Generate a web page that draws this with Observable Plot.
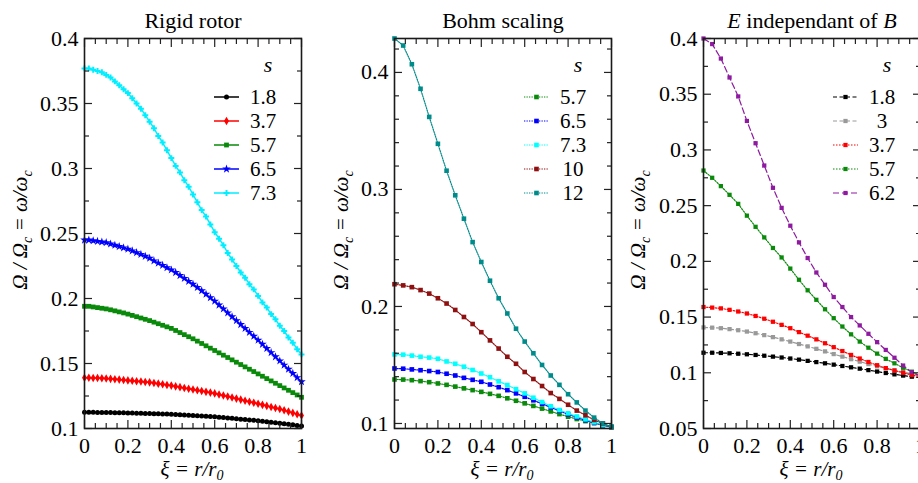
<!DOCTYPE html>
<html><head><meta charset="utf-8">
<script src="https://cdn.jsdelivr.net/npm/d3@7"></script>
<script src="https://cdn.jsdelivr.net/npm/@observablehq/plot@0.6"></script>
<style>
html,body{margin:0;padding:0;background:#fff;}
#wrap{position:relative;width:918px;height:483px;overflow:hidden;background:#fff;}
#wrap svg{position:absolute;top:0;}
#wrap svg text{font-family:'Liberation Serif','Times New Roman',serif !important;}
</style></head><body><div id="wrap"></div>
<script>
// ---------- x grids ----------
const xi51 = [0,0.02,0.04,0.06,0.08,0.1,0.12,0.14,0.16,0.18,0.2,0.22,0.24,0.26,0.28,0.3,0.32,0.34,0.36,0.38,0.4,0.42,0.44,0.46,0.48,0.5,0.52,0.54,0.56,0.58,0.6,0.62,0.64,0.66,0.68,0.7,0.72,0.74,0.76,0.78,0.8,0.82,0.84,0.86,0.88,0.9,0.92,0.94,0.96,0.98,1];
const xi26 = [0,0.04,0.08,0.12,0.16,0.2,0.24,0.28,0.32,0.36,0.4,0.44,0.48,0.52,0.56,0.6,0.64,0.68,0.72,0.76,0.8,0.84,0.88,0.92,0.96,1];

// ---------- Rigid rotor ----------
const rrLabels = ["1.8","3.7","5.7","6.5","7.3"];
const rr_s18 = [0.1125,0.1125,0.1125,0.1124,0.1124,0.1124,0.1123,0.1122,0.1121,0.1121,0.112,0.1119,0.1118,0.1117,0.1116,0.1115,0.1114,0.1113,0.1112,0.1111,0.111,0.1108,0.1106,0.1104,0.1102,0.110,0.1098,0.1096,0.1094,0.1092,0.109,0.1087,0.1084,0.1081,0.1078,0.1075,0.1072,0.1069,0.1066,0.1063,0.106,0.1056,0.1052,0.1048,0.1044,0.104,0.1036,0.1032,0.1028,0.1024,0.102];
const rr_s37 = [0.139,0.139,0.1389,0.1388,0.1387,0.1385,0.1382,0.1379,0.1376,0.1373,0.137,0.1367,0.1364,0.1361,0.1358,0.1355,0.135,0.1345,0.134,0.1335,0.133,0.1324,0.1318,0.1312,0.1306,0.130,0.1294,0.1288,0.1282,0.1276,0.127,0.1262,0.1254,0.1246,0.1238,0.123,0.1222,0.1214,0.1206,0.1198,0.119,0.1182,0.1174,0.1166,0.1158,0.115,0.114,0.113,0.112,0.111,0.110];
const rr_s57 = [0.194,0.194,0.1935,0.193,0.1925,0.192,0.1913,0.1905,0.1897,0.1889,0.188,0.187,0.186,0.185,0.184,0.183,0.1818,0.1806,0.1794,0.1782,0.177,0.1754,0.1738,0.1722,0.1706,0.169,0.1672,0.1654,0.1636,0.1618,0.160,0.1582,0.1564,0.1546,0.1528,0.151,0.1492,0.1474,0.1456,0.1438,0.142,0.1402,0.1384,0.1366,0.1348,0.133,0.1312,0.1294,0.1276,0.1258,0.124];
const rr_s65 = [0.245,0.245,0.2445,0.244,0.2435,0.243,0.242,0.241,0.240,0.239,0.238,0.2367,0.2353,0.234,0.2325,0.231,0.229,0.2272,0.2255,0.2237,0.222,0.220,0.2177,0.2155,0.2132,0.211,0.2085,0.206,0.2033,0.2006,0.198,0.195,0.192,0.189,0.186,0.183,0.180,0.177,0.174,0.171,0.168,0.1648,0.1616,0.1584,0.1552,0.152,0.1488,0.1456,0.1424,0.1392,0.136];
const rr_s73 = [0.377,0.377,0.376,0.375,0.374,0.372,0.370,0.367,0.364,0.361,0.358,0.354,0.350,0.346,0.341,0.336,0.331,0.325,0.320,0.314,0.308,0.302,0.297,0.291,0.286,0.280,0.274,0.268,0.263,0.257,0.251,0.246,0.241,0.235,0.230,0.225,0.220,0.216,0.211,0.207,0.202,0.197,0.193,0.188,0.184,0.179,0.175,0.170,0.166,0.161,0.157];

// ---------- Bohm scaling ----------
const bsLabels = ["5.7","6.5","7.3","10","12"];
const bs_s57 = [0.1376,0.1375,0.137,0.1362,0.1353,0.1342,0.133,0.1315,0.13,0.1285,0.127,0.1253,0.1236,0.1215,0.1194,0.1172,0.115,0.1127,0.1103,0.108,0.1058,0.1038,0.102,0.1003,0.0985,0.0968];
const bs_s65 = [0.147,0.1468,0.1462,0.1455,0.1448,0.144,0.1425,0.141,0.139,0.1373,0.1356,0.1333,0.131,0.1285,0.1257,0.1228,0.1198,0.1168,0.1138,0.1108,0.1078,0.1052,0.1028,0.1005,0.0987,0.097];
const bs_s73 = [0.159,0.1588,0.158,0.157,0.1563,0.1553,0.153,0.151,0.1485,0.1457,0.1427,0.1395,0.136,0.1328,0.1293,0.1257,0.122,0.1183,0.1147,0.1115,0.1087,0.106,0.1035,0.101,0.099,0.0975];
const bs_s10 = [0.219,0.218,0.2165,0.214,0.211,0.207,0.2025,0.197,0.191,0.185,0.178,0.171,0.164,0.157,0.151,0.144,0.138,0.132,0.126,0.121,0.116,0.111,0.107,0.103,0.100,0.097];
const bs_s12 = [0.429,0.423,0.407,0.386,0.362,0.339,0.316,0.295,0.275,0.255,0.238,0.222,0.207,0.194,0.181,0.170,0.160,0.150,0.141,0.133,0.125,0.118,0.111,0.105,0.100,0.097];

// ---------- E independant of B ----------
const ebLabels = ["1.8","3","3.7","5.7","6.2"];
const eb_s18 = [0.118,0.118,0.1178,0.1175,0.1171,0.1166,0.116,0.1153,0.1145,0.1137,0.1128,0.1118,0.1107,0.1096,0.1085,0.1073,0.1061,0.1049,0.1037,0.1024,0.1011,0.0998,0.0986,0.0975,0.0965,0.0955];
const eb_s3  = [0.1407,0.1405,0.140,0.1392,0.1382,0.137,0.1355,0.1338,0.132,0.13,0.128,0.1258,0.1237,0.1215,0.1192,0.1168,0.1145,0.1122,0.11,0.1078,0.1058,0.104,0.1023,0.1007,0.0992,0.0978];
const eb_s37 = [0.159,0.1585,0.1578,0.1565,0.155,0.1532,0.151,0.1485,0.1458,0.143,0.14,0.1365,0.1333,0.13,0.1265,0.123,0.1195,0.116,0.1128,0.1097,0.1068,0.1042,0.102,0.1,0.098,0.0965];
const eb_s57 = [0.2815,0.275,0.2675,0.2597,0.2516,0.241,0.231,0.2215,0.212,0.2035,0.1935,0.1835,0.174,0.1655,0.157,0.149,0.1415,0.1345,0.128,0.1225,0.1172,0.1125,0.1085,0.1045,0.101,0.097];
const eb_s62 = [0.400,0.395,0.382,0.365,0.348,0.326,0.306,0.286,0.266,0.248,0.232,0.217,0.203,0.190,0.179,0.168,0.159,0.150,0.1425,0.135,0.1275,0.1205,0.1135,0.1065,0.1005,0.097];

// ---------- ticks ----------
const xMajor = [0,0.2,0.4,0.6,0.8,1];
const xMinor = [0.05,0.1,0.15,0.25,0.3,0.35,0.45,0.5,0.55,0.65,0.7,0.75,0.85,0.9,0.95];
const yMajor1 = [0.1,0.15,0.2,0.25,0.3,0.35,0.4];
const yMinor1 = [0.125,0.175,0.225,0.275,0.325,0.375];
const yMajor2 = [0.1,0.2,0.3,0.4];
const yMinor2 = [0.12,0.14,0.16,0.18,0.22,0.24,0.26,0.28,0.32,0.34,0.36,0.38,0.42];
const yMajor3 = [0.05,0.1,0.15,0.2,0.25,0.3,0.35,0.4];
const yMinor3 = [0.075,0.125,0.175,0.225,0.275,0.325,0.375];

// ---------- styles ----------
const SERIF = "'Liberation Serif','Times New Roman',serif";
const symMap = {circle: d3.symbolCircle, diamond: d3.symbolDiamond, square: d3.symbolSquare, star: d3.symbolStar, cross: d3.symbolCross};

const panels = [
  {left: 0, xs: xi51, series: [rr_s18, rr_s37, rr_s57, rr_s65, rr_s73], labels: rrLabels,
   colors: ["#000000","#ff0000","#0a8a0a","#0000ff","#00eeff"],
   dashes: [null,null,null,null,null],
   symbols: ["circle","diamond","square","star","cross"], radii: [2.5,2.6,2.7,2.7,2.5],
   lw: 1.5, yDomain: [0.1, 0.4], yMajor: yMajor1, yMinor: yMinor1,
   title: [["Rigid rotor", false]], ylabX: 20},
  {left: 310, xs: xi26, series: [bs_s57, bs_s65, bs_s73, bs_s10, bs_s12], labels: bsLabels,
   colors: ["#0a8a0a","#0000ff","#00ffff","#8f1010","#008b8b"],
   dashes: ["1.3,1.2","1.3,1.2","1.3,1.2","1.3,1.2","1.3,1.2"],
   symbols: ["square","square","square","square","square"], radii: [2.6,2.6,2.6,2.6,2.6],
   lw: 1.2, yDomain: [0.0957, 0.429], yMajor: yMajor2, yMinor: yMinor2,
   title: [["Bohm scaling", false]], ylabX: 31},
  {left: 619, xs: xi26, series: [eb_s18, eb_s3, eb_s37, eb_s57, eb_s62], labels: ebLabels,
   colors: ["#000000","#999999","#ff0000","#0a8a0a","#8e1aa0"],
   dashes: ["4,2.5","4,2.5","1.5,1.5","1.5,1.5","6,3"],
   symbols: ["square","square","square","square","square"], radii: [2.4,2.4,2.4,2.4,2.4],
   lw: 1.2, yDomain: [0.05, 0.4], yMajor: yMajor3, yMinor: yMinor3,
   title: [["E", true],[" independant of ", false],["B", true]], ylabX: 19}
];

const wrap = document.getElementById("wrap");

panels.forEach(p => {
  const marks = [];
  p.series.forEach((vals, i) => {
    const rows = vals.map((v, j) => ({x: p.xs[j], y: v}));
    marks.push(Plot.line(rows, {x: "x", y: "y", stroke: p.colors[i], strokeWidth: p.lw,
      strokeDasharray: p.dashes[i] || undefined}));
    marks.push(Plot.dot(rows, {x: "x", y: "y", symbol: p.symbols[i], r: p.radii[i],
      fill: p.colors[i], stroke: "none"}));
  });
  const tickStyle = {stroke: "#222", strokeWidth: 1.2, fill: "none", label: null, tickFormat: () => ""};
  marks.push(
    Plot.axisY(p.yMajor, {anchor: "left", tickSize: 0, tickPadding: 6, tickFormat: d => String(d), label: null}),
    Plot.axisX(xMajor, {anchor: "bottom", tickSize: 0, tickPadding: 9, tickFormat: d => String(d), label: null}),
    Plot.axisY(p.yMajor, {anchor: "left", tickSize: -8, ...tickStyle}),
    Plot.axisY(p.yMinor, {anchor: "left", tickSize: -5, ...tickStyle}),
    Plot.axisY(p.yMajor, {anchor: "right", tickSize: -8, ...tickStyle}),
    Plot.axisY(p.yMinor, {anchor: "right", tickSize: -5, ...tickStyle}),
    Plot.axisX(xMajor, {anchor: "bottom", tickSize: -8, ...tickStyle}),
    Plot.axisX(xMinor, {anchor: "bottom", tickSize: -5, ...tickStyle}),
    Plot.axisX(xMajor, {anchor: "top", tickSize: -8, ...tickStyle}),
    Plot.axisX(xMinor, {anchor: "top", tickSize: -5, ...tickStyle}),
    Plot.frame({stroke: "#1a1a1a", strokeWidth: 1.6})
  );
  const svg = Plot.plot({
    width: 310, height: 483,
    marginTop: 38, marginBottom: 55, marginLeft: 84, marginRight: 9,
    x: {domain: [0, 1], label: null},
    y: {domain: p.yDomain, label: null},
    style: {fontFamily: SERIF, fontSize: "22px", color: "#000", background: "transparent", overflow: "visible"},
    marks
  });
  svg.style.left = p.left + "px";
  wrap.appendChild(svg);

  const g = d3.select(svg).append("g").attr("font-family", SERIF).attr("fill", "#000");
  // title
  const t = g.append("text").attr("x", 193).attr("y", 28).attr("text-anchor", "middle").attr("font-size", 22);
  p.title.forEach(([s, it]) => t.append("tspan").attr("font-style", it ? "italic" : "normal").text(s));
  // y label
  const yl = g.append("text").attr("transform", `translate(${p.ylabX},230) rotate(-90)`)
    .attr("text-anchor", "middle").attr("dy", "0.35em").attr("font-size", 21).attr("font-style", "italic");
  yl.append("tspan").text("Ω / Ω");
  yl.append("tspan").attr("font-size", 14).attr("dy", 5).text("c");
  yl.append("tspan").attr("dy", -5).text(" = ω/ω");
  yl.append("tspan").attr("font-size", 14).attr("dy", 5).text("c");
  // x label
  const xl = g.append("text").attr("x", 192).attr("y", 476).attr("text-anchor", "middle")
    .attr("font-size", 21).attr("font-style", "italic");
  xl.append("tspan").text("ξ = r/r");
  xl.append("tspan").attr("font-size", 14).attr("dy", 4).text("0");
  // legend
  g.append("text").attr("x", 268).attr("y", 72).attr("text-anchor", "middle")
    .attr("font-style", "italic").attr("font-size", 22).text("s");
  p.labels.forEach((lab, i) => {
    const cy = 97 + 24 * i;
    g.append("line").attr("x1", 214).attr("x2", 239).attr("y1", cy).attr("y2", cy)
      .attr("stroke", p.colors[i]).attr("stroke-width", p.lw)
      .attr("stroke-dasharray", p.dashes[i]);
    g.append("path").attr("transform", `translate(226.5,${cy})`)
      .attr("d", d3.symbol(symMap[p.symbols[i]], Math.PI * p.radii[i] * p.radii[i])())
      .attr("fill", p.colors[i]);
    g.append("text").attr("x", 263).attr("y", cy).attr("dy", "0.35em")
      .attr("font-size", 21).text(lab);
  });
});
</script>
</body></html>
